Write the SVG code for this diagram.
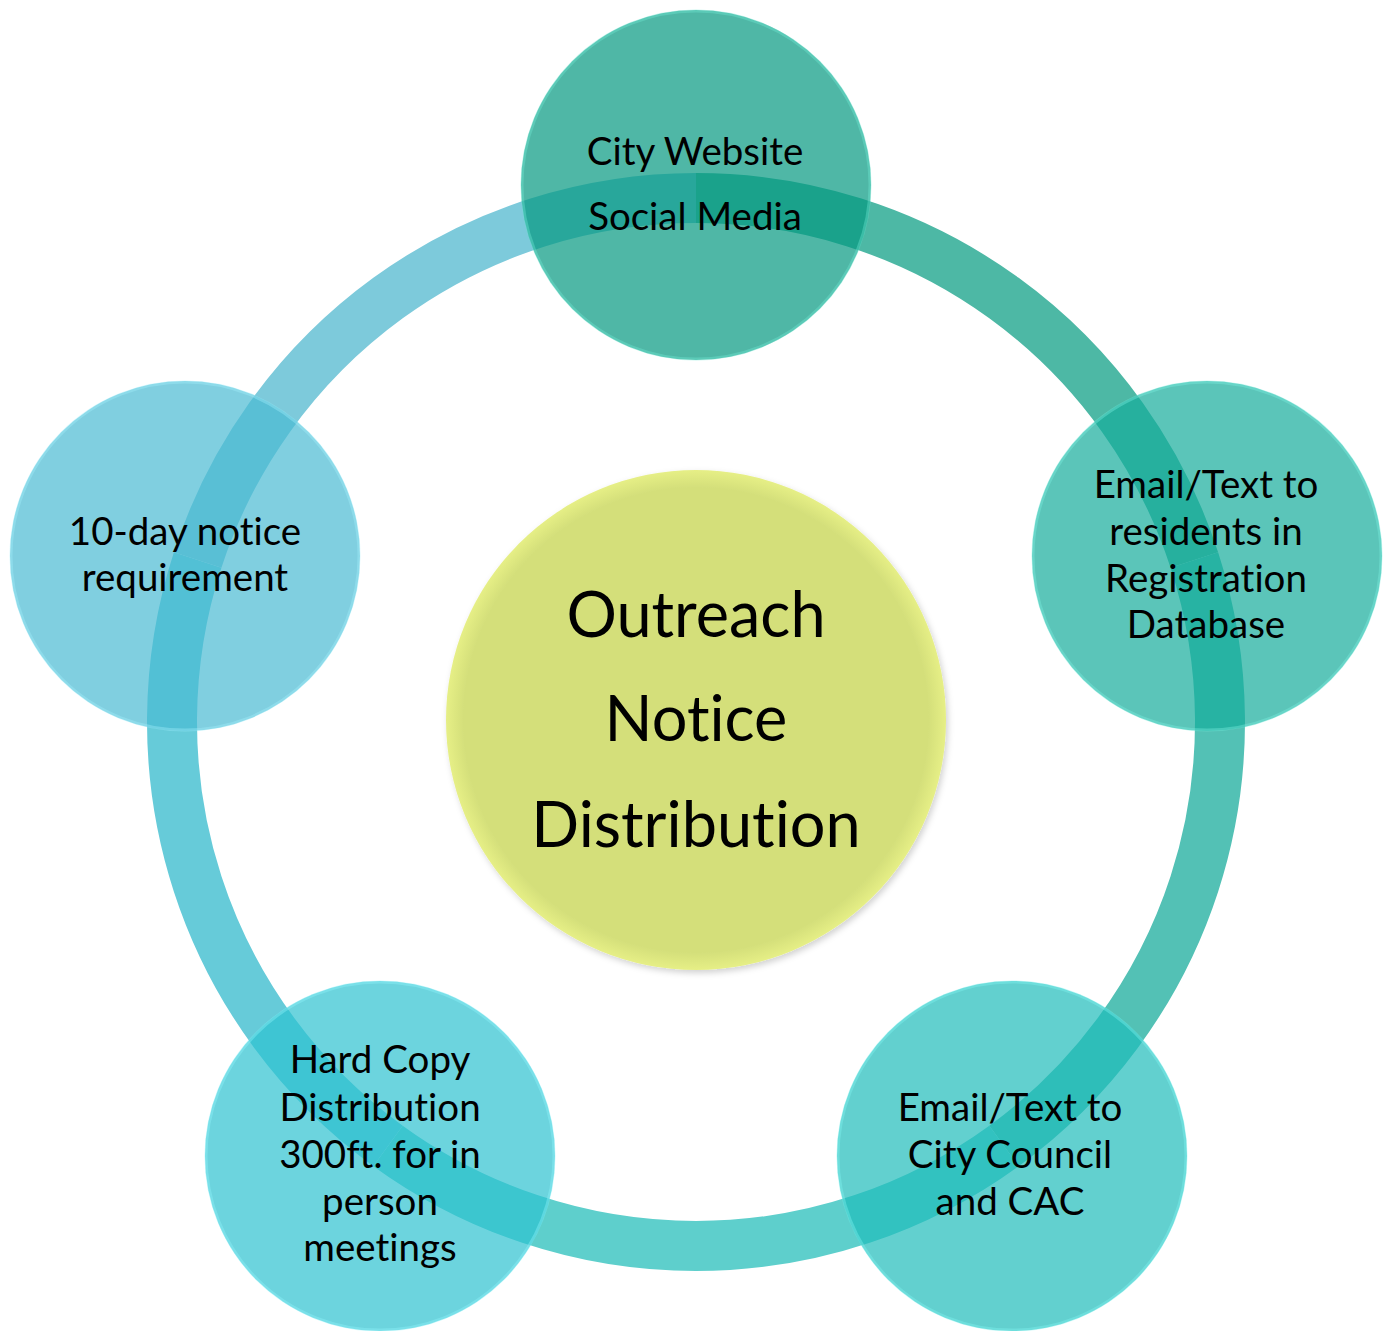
<svg xmlns="http://www.w3.org/2000/svg" width="1393" height="1331" viewBox="0 0 1393 1331">
<defs>
<style>
.lbl{font-family:Lato,"Open Sans","Liberation Sans",sans-serif;font-size:38.5px;fill:#000;text-anchor:middle;font-variant-ligatures:none}
.big{font-family:Lato,"Open Sans","Liberation Sans",sans-serif;font-size:63px;fill:#000;text-anchor:middle;font-variant-ligatures:none}
.arc{fill:none;stroke-width:50;stroke-linecap:butt}
.sat{opacity:0.7}
.rim{fill:none;stroke-width:3;opacity:0.4}
</style>
<radialGradient id="gCenter" cx="0.5" cy="0.5" r="0.5">
<stop offset="0" stop-color="#d4df7a"/>
<stop offset="0.93" stop-color="#d4df7a"/>
<stop offset="1" stop-color="#e6ef86"/>
</radialGradient>
<filter id="shadow" x="-10%" y="-10%" width="120%" height="120%">
<feDropShadow dx="2" dy="3" stdDeviation="3" flood-color="#000" flood-opacity="0.18"/>
</filter>
</defs>
<rect width="1393" height="1331" fill="#fff"/>

<g id="connectors">
<path class="arc" stroke="#4db8a5" d="M696,198 A524,524 0 0 1 1194.35,560.07"/>
<path class="arc" stroke="#53c1b5" d="M1194.35,560.07 A524,524 0 0 1 1004,1145.9"/>
<path class="arc" stroke="#5ecfcc" d="M1004,1145.9 A524,524 0 0 1 388,1145.9"/>
<path class="arc" stroke="#66cbd9" d="M388,1145.9 A524,524 0 0 1 197.65,560.07"/>
<path class="arc" stroke="#7dcadb" d="M197.65,560.07 A524,524 0 0 1 696,198"/>
</g>

<g id="center">
<circle cx="696" cy="720" r="250" fill="url(#gCenter)" filter="url(#shadow)"/>
<text class="big" x="696" y="637">Outreach</text>
<text class="big" x="696" y="741">Notice</text>
<text class="big" x="696" y="847">Distribution</text>
</g>

<g id="top">
<circle class="sat" cx="696" cy="185" r="175" fill="#049980"/>
<circle class="rim" cx="696" cy="185" r="174" stroke="#6fe6d2"/>
<text class="lbl" x="695" y="165">City Website</text>
<text class="lbl" x="695" y="230">Social Media</text>
</g>

<g id="right">
<circle class="sat" cx="1207" cy="556" r="175" fill="#15ac9b"/>
<circle class="rim" cx="1207" cy="556" r="174" stroke="#7aeedf"/>
<text class="lbl" x="1206" y="498">Email/Text to</text>
<text class="lbl" x="1206" y="545">residents in</text>
<text class="lbl" x="1206" y="592">Registration</text>
<text class="lbl" x="1206" y="638">Database</text>
</g>

<g id="bottom-right">
<circle class="sat" cx="1012" cy="1156" r="175" fill="#1fbcba"/>
<circle class="rim" cx="1012" cy="1156" r="174" stroke="#80f2f0"/>
<text class="lbl" x="1010" y="1121">Email/Text to</text>
<text class="lbl" x="1010" y="1168">City Council</text>
<text class="lbl" x="1010" y="1215">and CAC</text>
</g>

<g id="bottom-left">
<circle class="sat" cx="380" cy="1156" r="175" fill="#2ec2d0"/>
<circle class="rim" cx="380" cy="1156" r="174" stroke="#8ef2fa"/>
<text class="lbl" x="380" y="1073">Hard Copy</text>
<text class="lbl" x="380" y="1121">Distribution</text>
<text class="lbl" x="380" y="1168">300ft. for in</text>
<text class="lbl" x="380" y="1215">person</text>
<text class="lbl" x="380" y="1261">meetings</text>
</g>

<g id="left">
<circle class="sat" cx="185" cy="556" r="175" fill="#4abad3"/>
<circle class="rim" cx="185" cy="556" r="174" stroke="#a0eefa"/>
<text class="lbl" x="185" y="545">10-day notice</text>
<text class="lbl" x="185" y="591">requirement</text>
</g>
</svg>
